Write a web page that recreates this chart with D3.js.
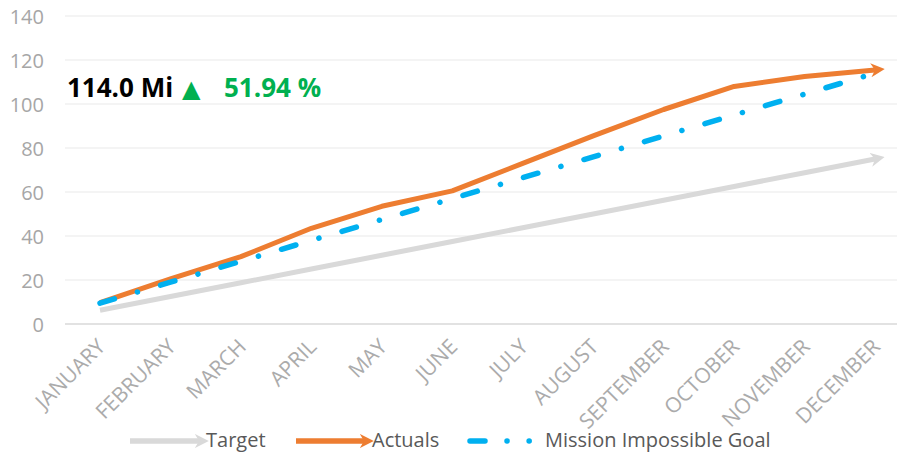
<!DOCTYPE html>
<html>
<head>
<meta charset="utf-8">
<script src="https://cdn.jsdelivr.net/npm/d3@7"></script>
<style>
  html, body { margin: 0; padding: 0; background: #fff; }
  svg { display: block; }
</style>
</head>
<body>
<svg id="chart" width="897" height="452"></svg>
<script>
// Monthly cumulative mileage
const months = ["JANUARY", "FEBRUARY", "MARCH", "APRIL", "MAY", "JUNE",
                "JULY", "AUGUST", "SEPTEMBER", "OCTOBER", "NOVEMBER", "DECEMBER"];
const target  = [6.25, 12.5, 18.75, 25, 31.25, 37.5, 43.75, 50, 56.25, 62.5, 68.75, 75];
const actuals = [9.7, 20.5, 30.6, 43.5, 53.5, 60.5, 73, 85.5, 97.5, 108, 112.5, 115.5];
const goal    = [9.5, 19, 28.5, 38, 47.5, 57, 66.5, 76, 85.5, 95, 104.5, 114];
const yTicks  = [0, 20, 40, 60, 80, 100, 120, 140];

// Headline figures
const headlineValue = 114.0;
const headlineChange = 51.94;

const font = "'Open Sans', 'DejaVu Sans', sans-serif";
const svg = d3.select("#chart");

const x = d3.scalePoint().domain(months).range([100, 875]);
const y = d3.scaleLinear().domain([0, 140]).range([324, 16]);

// Arrow-head markers for line ends
const defs = svg.append("defs");
function arrow(id, color) {
  defs.append("marker")
    .attr("id", id)
    .attr("viewBox", "0 0 10 10")
    .attr("refX", 3).attr("refY", 5)
    .attr("markerWidth", 14).attr("markerHeight", 14)
    .attr("markerUnits", "userSpaceOnUse")
    .attr("orient", "auto")
    .append("path")
    .attr("d", "M0,0 L10,5 L0,10 L3,5 Z")
    .attr("fill", color);
}
arrow("arrTarget", "#D9D9D9");
arrow("arrActual", "#ED7D31");

// Gridlines
const grid = svg.append("g");
grid.selectAll("line").data(yTicks).join("line")
  .attr("x1", 65).attr("x2", 897)
  .attr("y1", d => y(d)).attr("y2", d => y(d))
  .attr("stroke", d => d === 0 ? "#D9D9D9" : "#F0F0F0")
  .attr("stroke-width", 1.5);

// Y axis labels
const yAxis = d3.axisLeft(y).tickValues(yTicks).tickSize(0).tickPadding(0);
const gy = svg.append("g").attr("transform", "translate(44,0)").call(yAxis);
gy.select(".domain").remove();
gy.selectAll("text")
  .attr("font-family", font).attr("font-size", 20)
  .attr("fill", "#A6A6A6").attr("dy", "0.35em");

// X axis labels, rotated
const xAxis = d3.axisBottom(x).tickSize(0).tickPadding(0);
const gx = svg.append("g").attr("transform", "translate(0,324)").call(xAxis);
gx.select(".domain").remove();
gx.selectAll("text")
  .attr("font-family", font).attr("font-size", 21)
  .attr("fill", "#ABABAB")
  .attr("text-anchor", "end")
  .attr("dy", 0)
  .attr("transform", "translate(6,24) rotate(-45)");

// Series lines
const line = d3.line().x((d, i) => x(months[i])).y(d => y(d));

svg.append("path").datum(target)
  .attr("d", line).attr("fill", "none")
  .attr("stroke", "#D9D9D9").attr("stroke-width", 5)
  .attr("stroke-linejoin", "round")
  .attr("marker-end", "url(#arrTarget)");

svg.append("path").datum(actuals)
  .attr("d", line).attr("fill", "none")
  .attr("stroke", "#ED7D31").attr("stroke-width", 5)
  .attr("stroke-linejoin", "round")
  .attr("marker-end", "url(#arrActual)");

svg.append("path").datum(goal)
  .attr("d", line).attr("fill", "none")
  .attr("stroke", "#00B0F0").attr("stroke-width", 5.5)
  .attr("stroke-linecap", "round")
  .attr("stroke-dasharray", "15,24,0.1,24");

// Headline annotation
const head = svg.append("g");
head.append("text")
  .attr("x", 67).attr("y", 97)
  .attr("font-family", font).attr("font-size", 26).attr("font-weight", "bold")
  .attr("fill", "#000")
  .text(d3.format(".1f")(headlineValue) + " Mi");
head.append("text")
  .attr("x", 182).attr("y", 97)
  .attr("font-family", "'DejaVu Sans', sans-serif").attr("font-size", 24)
  .attr("fill", "#00B050")
  .text("▲");
head.append("text")
  .attr("x", 224).attr("y", 97)
  .attr("font-family", font).attr("font-size", 26).attr("font-weight", "bold")
  .attr("fill", "#00B050")
  .text(d3.format(".2f")(headlineChange) + " %");

// Legend
const legend = svg.append("g");
const ly = 441;
const items = [
  { name: "Target", color: "#D9D9D9", x0: 130, x1: 199, marker: "arrTarget", tx: 206 },
  { name: "Actuals", color: "#ED7D31", x0: 296, x1: 364, marker: "arrActual", tx: 372 },
  { name: "Mission Impossible Goal", color: "#00B0F0", x0: 470, x1: 538, dash: "15,22,0.1,22,0.1,30", tx: 545 }
];
items.forEach(it => {
  legend.append("line")
    .attr("x1", it.x0).attr("x2", it.x1).attr("y1", ly).attr("y2", ly)
    .attr("stroke", it.color).attr("stroke-width", 5.5)
    .attr("stroke-linecap", it.dash ? "round" : "butt")
    .attr("stroke-dasharray", it.dash || null)
    .attr("marker-end", it.marker ? `url(#${it.marker})` : null);
  legend.append("text")
    .attr("x", it.tx).attr("y", 447)
    .attr("font-family", font).attr("font-size", 20)
    .attr("fill", "#595959")
    .text(it.name);
});
</script>
</body>
</html>
